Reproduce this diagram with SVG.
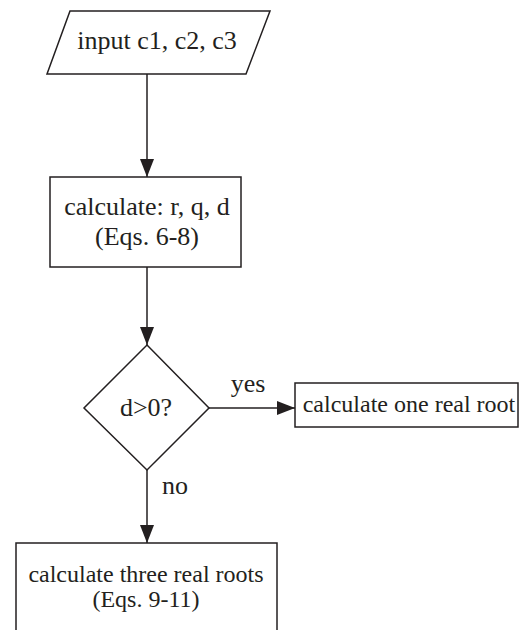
<svg xmlns="http://www.w3.org/2000/svg" width="519" height="630" viewBox="0 0 519 630">
<style>
.s{fill:#fff;stroke:#231f20;stroke-width:1.5}
.t{font-family:"Liberation Serif","Times New Roman",serif;font-size:26px;fill:#231f20;text-anchor:middle}
.u{font-size:24px}
.c{stroke:#231f20;stroke-width:1.5;fill:none}
</style>
<defs>
<marker id="ah" markerWidth="18" markerHeight="14" refX="18" refY="7" orient="auto" markerUnits="userSpaceOnUse">
<path d="M0,0 L18,7 L0,14 Z" fill="#231f20"/>
</marker>
</defs>
<rect width="519" height="630" fill="#fff"/>
<g id="connectors">
<line class="c" x1="147" y1="74" x2="147" y2="177" marker-end="url(#ah)"/>
<line class="c" x1="147" y1="267" x2="147" y2="345" marker-end="url(#ah)"/>
<line class="c" x1="209" y1="408" x2="295" y2="408" marker-end="url(#ah)"/>
<line class="c" x1="147" y1="470" x2="147" y2="543" marker-end="url(#ah)"/>
<text class="t" x="248" y="392">yes</text>
<text class="t" x="175" y="494">no</text>
</g>
<g id="input">
<polygon class="s" points="70,11 270,11 246,74 47,74"/>
<text class="t" x="157" y="49">input c1, c2, c3</text>
</g>
<g id="calc">
<rect class="s" x="50" y="177" width="191" height="90"/>
<text class="t" x="147" y="215">calculate: r, q, d</text>
<text class="t" x="147" y="245">(Eqs. 6-8)</text>
</g>
<g id="decision">
<polygon class="s" points="147,345 209,408 147,470 84,408"/>
<text class="t" x="146" y="416">d&gt;0?</text>
</g>
<g id="oneroot">
<rect class="s" x="295" y="383" width="223" height="44"/>
<text class="t u" x="409" y="412">calculate one real root</text>
</g>
<g id="threeroots">
<rect class="s" x="16" y="543" width="261" height="100"/>
<text class="t u" x="146" y="582">calculate three real roots</text>
<text class="t u" x="146" y="607">(Eqs. 9-11)</text>
</g>
</svg>
